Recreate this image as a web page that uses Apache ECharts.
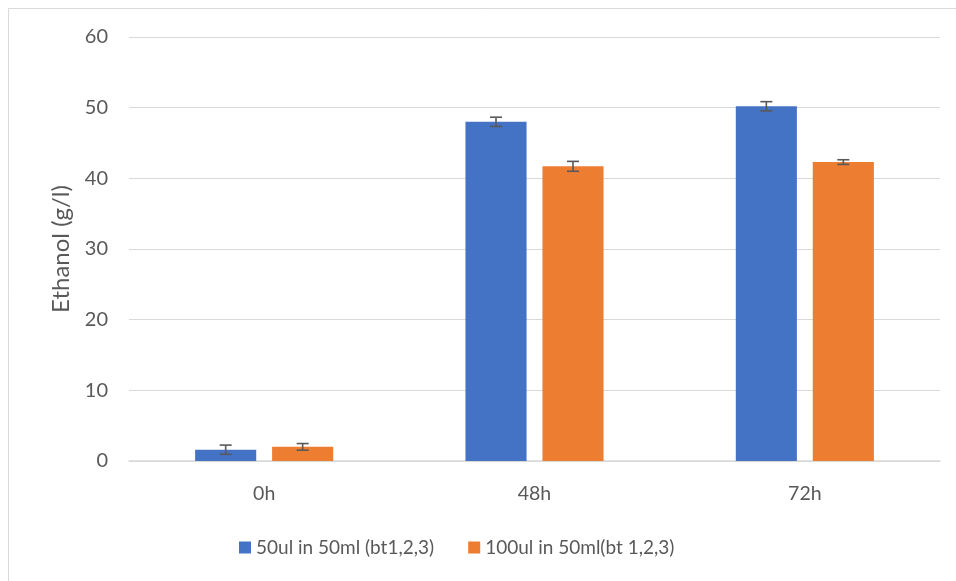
<!DOCTYPE html>
<html>
<head>
<meta charset="utf-8">
<script src="https://cdn.jsdelivr.net/npm/echarts@6/dist/echarts.min.js"></script>
<style>
html,body{margin:0;padding:0;background:#fff;}
#chart{width:956px;height:581px;}
</style>
</head>
<body>
<div id="chart"></div>
<script>
const categories = ['0h', '48h', '72h'];
const seriesNames = ['50ul in 50ml (bt1,2,3)', '100ul in 50ml(bt 1,2,3)'];
const blueValues = [1.6, 48.0, 50.2];
const blueErrors = [0.65, 0.65, 0.65];
const orangeValues = [2.0, 41.7, 42.3];
const orangeErrors = [0.47, 0.7, 0.33];
const yTicks = [0, 10, 20, 30, 40, 50, 60];

const FONT = 'Lato, "Open Sans", sans-serif';
const TXT = '#595959';
const BAR_W = 0.226;
const BAR_GAP = 0.26;

function errorSeries(values, errors, side) {
  return {
    type: 'custom',
    silent: true,
    z: 10,
    data: values.map((v, i) => [i, v, errors[i]]),
    renderItem: function (params, api) {
      const idx = api.value(0);
      const val = api.value(1);
      const err = api.value(2);
      const band = api.size([1, 0])[0];
      const bw = band * BAR_W;
      const off = side * (bw + bw * BAR_GAP) / 2;
      const top = api.coord([idx, val + err]);
      const bot = api.coord([idx, val - err]);
      const x = top[0] + off;
      const cap = 6;
      const style = { stroke: '#595959', lineWidth: 1.6 };
      return {
        type: 'group',
        children: [
          { type: 'line', shape: { x1: x, y1: top[1], x2: x, y2: bot[1] }, style: style },
          { type: 'line', shape: { x1: x - cap, y1: top[1], x2: x + cap, y2: top[1] }, style: style },
          { type: 'line', shape: { x1: x - cap, y1: bot[1], x2: x + cap, y2: bot[1] }, style: style }
        ]
      };
    }
  };
}

const chart = echarts.init(document.getElementById('chart'), null, { renderer: 'canvas' });
chart.setOption({
  animation: false,
  backgroundColor: '#ffffff',
  textStyle: { fontFamily: FONT },
  graphic: [{
    type: 'rect',
    shape: { x: 8.5, y: 8.5, width: 1000, height: 1000 },
    style: { fill: 'none', stroke: '#d9d9d9', lineWidth: 1 },
    silent: true
  }],
  grid: { left: 129, right: 16, top: 37, bottom: 120 },
  legend: {
    data: seriesNames,
    bottom: 19,
    left: 234,
    itemWidth: 12,
    itemHeight: 12,
    itemGap: 34,
    icon: 'rect',
    textStyle: { color: TXT, fontSize: 19, fontFamily: FONT }
  },
  xAxis: {
    type: 'category',
    data: categories,
    axisLine: { lineStyle: { color: '#d9d9d9', width: 1.5 } },
    axisTick: { show: false },
    axisLabel: { color: TXT, fontSize: 19.5, margin: 23, fontFamily: FONT }
  },
  yAxis: {
    type: 'value',
    min: yTicks[0],
    max: yTicks[yTicks.length - 1],
    interval: 10,
    name: 'Ethanol (g/l)',
    nameLocation: 'middle',
    nameGap: 56,
    nameRotate: 90,
    nameTextStyle: { color: TXT, fontSize: 24, fontFamily: FONT },
    axisLine: { show: false },
    axisTick: { show: false },
    splitLine: { lineStyle: { color: '#d9d9d9', width: 1.2 } },
    axisLabel: { color: TXT, fontSize: 20, margin: 21, fontFamily: FONT }
  },
  series: [
    {
      name: seriesNames[0],
      type: 'bar',
      data: blueValues,
      barWidth: (BAR_W * 100) + '%',
      barGap: (BAR_GAP * 100) + '%',
      itemStyle: { color: '#4472c4' }
    },
    {
      name: seriesNames[1],
      type: 'bar',
      data: orangeValues,
      barWidth: (BAR_W * 100) + '%',
      barGap: (BAR_GAP * 100) + '%',
      itemStyle: { color: '#ed7d31' }
    },
    errorSeries(blueValues, blueErrors, -1),
    errorSeries(orangeValues, orangeErrors, 1)
  ]
});
</script>
</body>
</html>
